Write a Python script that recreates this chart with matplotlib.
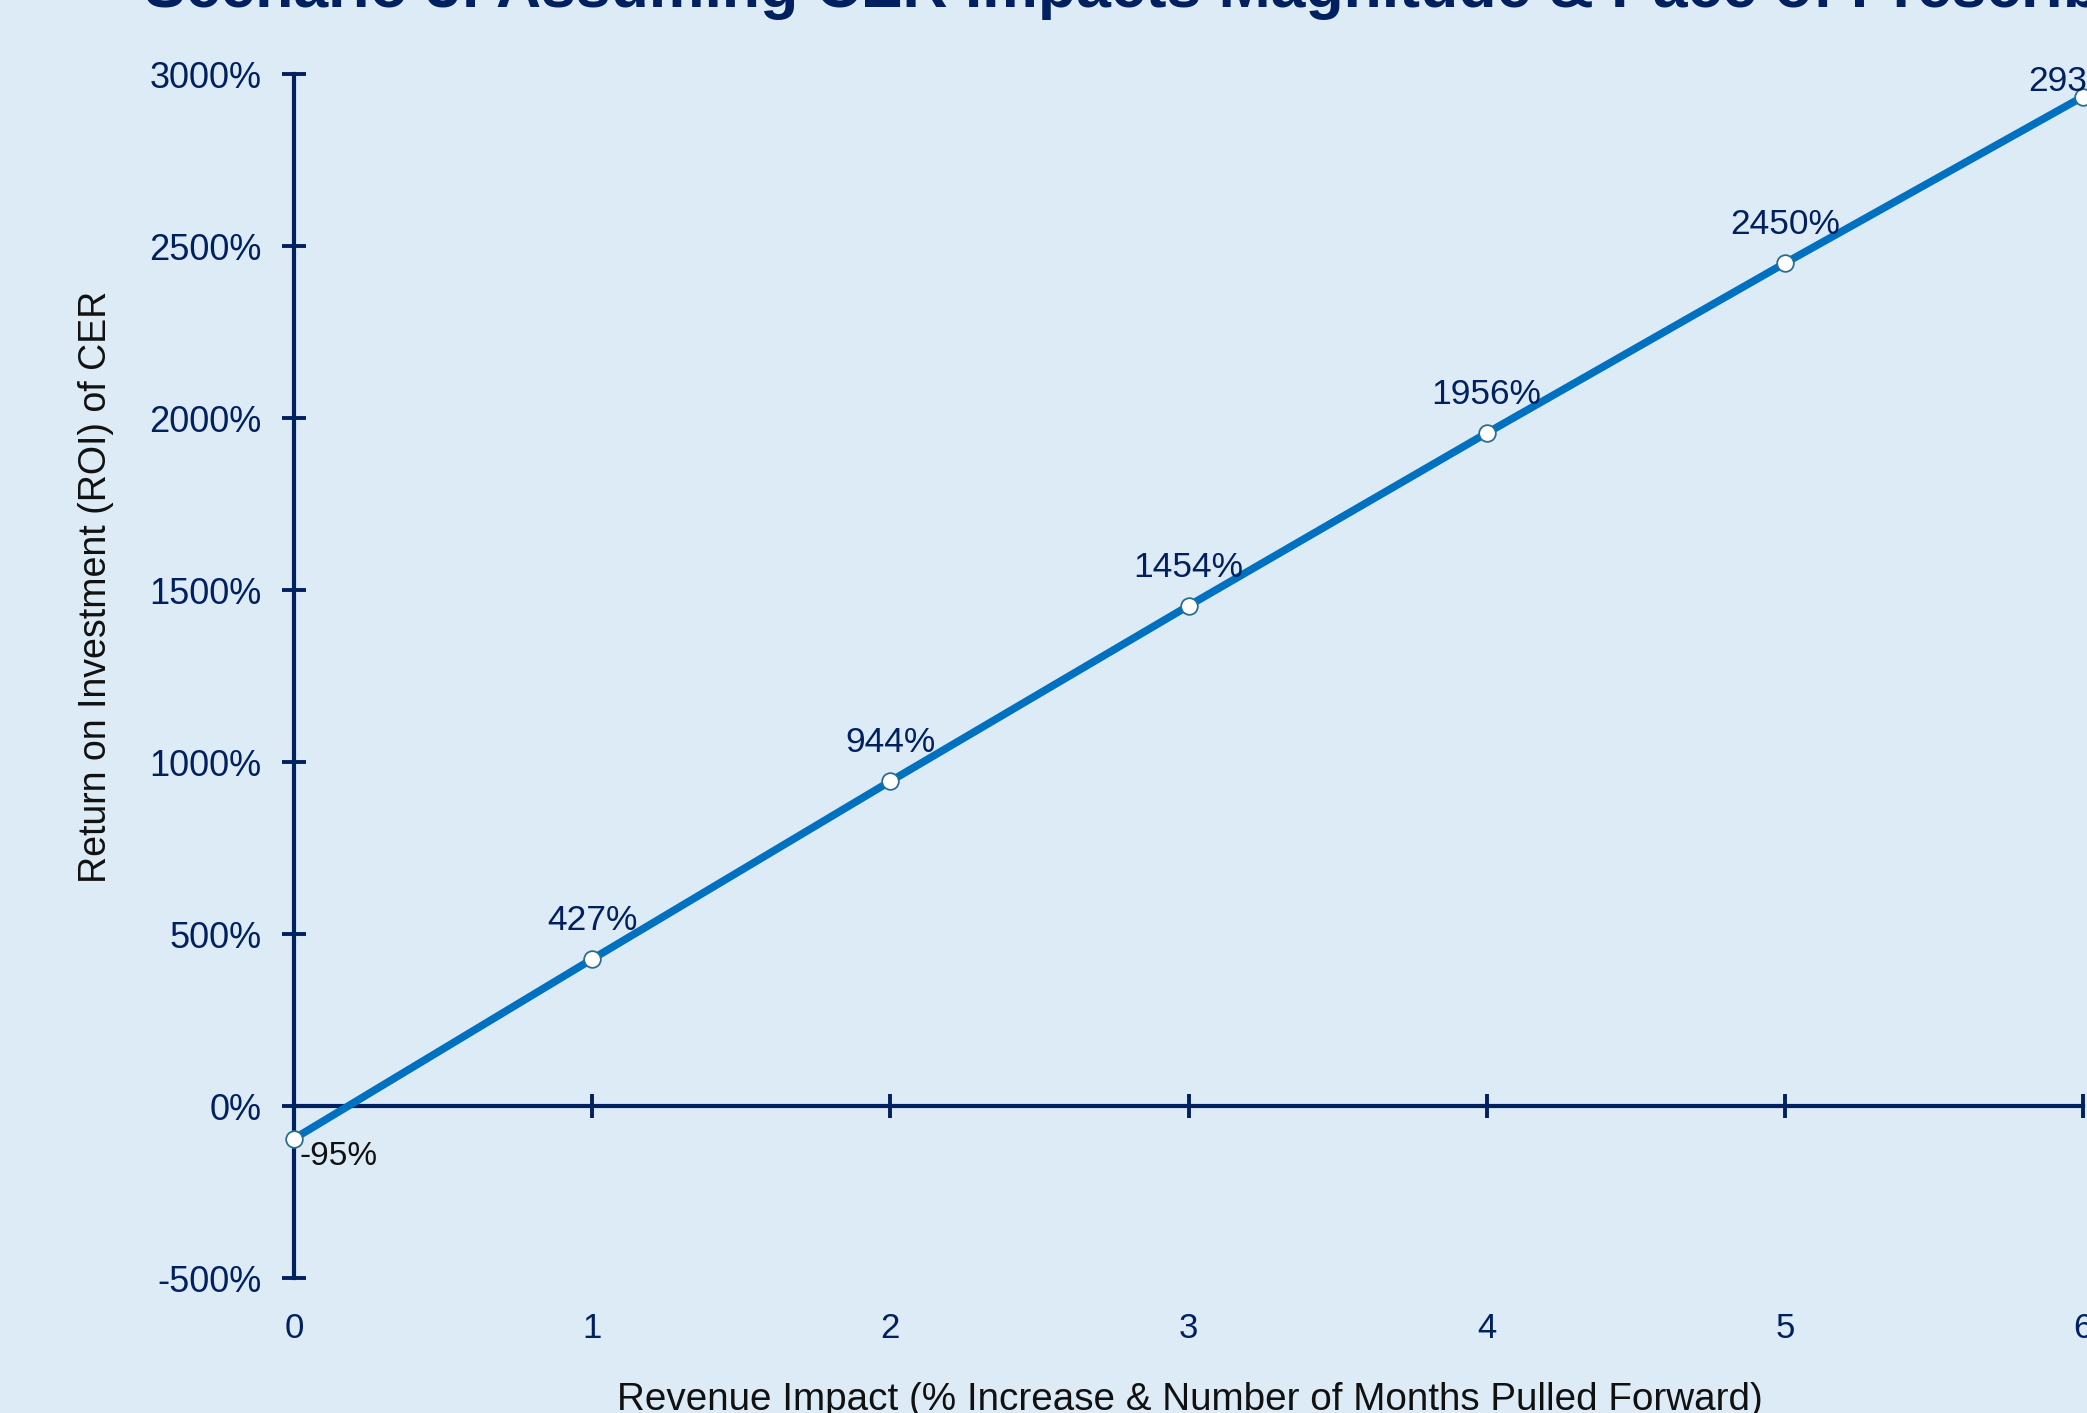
import matplotlib
matplotlib.use("Agg")
import matplotlib.pyplot as plt
import matplotlib.transforms as mtransforms

# ---- data ----
x_values = [0, 1, 2, 3, 4, 5, 6]
roi_values = [-95, 427, 944, 1454, 1956, 2450, 2934]
roi_labels = ["-95%", "427%", "944%", "1454%", "1956%", "2450%", "2934%"]
y_ticks = [-500, 0, 500, 1000, 1500, 2000, 2500, 3000]
x_ticks = [0, 1, 2, 3, 4, 5, 6]
title = "Scenario 3: Assuming CER Impacts Magnitude & Pace of Prescribing"
x_label = "Revenue Impact (% Increase & Number of Months Pulled Forward)"
y_label = "Return on Investment (ROI) of CER"

BG = "#DDEBF7"
NAVY = "#002060"
LINE = "#0070C0"
FONT = "Liberation Sans"

plt.rcParams["font.family"] = [FONT, "DejaVu Sans"]

W, H = 2087, 1413
fig = plt.figure(figsize=(W / 100, H / 100), dpi=100, facecolor=BG)
ax_left, ax_right, ax_top, ax_bottom = 294, 2083, 74, 1278
ax = fig.add_axes([ax_left / W, 1 - ax_bottom / H, (ax_right - ax_left) / W, (ax_bottom - ax_top) / H])
ax.set_facecolor(BG)
ax.set_xlim(0, 6)
ax.set_ylim(-500, 3000)

for s in ["top", "right"]:
    ax.spines[s].set_visible(False)
ax.spines["left"].set_position(("data", 0))
ax.spines["bottom"].set_position(("data", 0))
for s in ["left", "bottom"]:
    ax.spines[s].set_color(NAVY)
    ax.spines[s].set_linewidth(3)
    ax.spines[s].set_zorder(2)

ax.set_yticks(y_ticks)
ax.set_yticklabels([f"{v}%" for v in y_ticks])
ax.tick_params(axis="y", direction="inout", length=17, width=2.8, color=NAVY,
               labelcolor=NAVY, labelsize=26, pad=15)
ax.set_xticks(x_ticks[1:])
ax.tick_params(axis="x", direction="inout", length=17, width=2.8, color=NAVY,
               labelbottom=False)

# x tick labels placed low (below plot area)
trans = mtransforms.blended_transform_factory(ax.transData, ax.transAxes)
for xv in x_ticks:
    ax.text(xv, -60 / (ax_bottom - ax_top), str(xv), transform=trans, ha="center",
            va="baseline", fontsize=25, color=NAVY, clip_on=False)

ax.plot(x_values, roi_values, color=LINE, linewidth=5.5, marker="o", markersize=12,
        markerfacecolor="white", markeredgecolor="#2A6F8F", markeredgewidth=1.3,
        clip_on=False, zorder=5, solid_capstyle="butt")

ymax = ax.get_ylim()[1]
for xv, yv, lab in zip(x_values, roi_values, roi_labels):
    if yv < 0:
        ax.annotate(lab, (xv, yv), xytext=(4, -19), textcoords="offset points",
                    ha="left", va="baseline", fontsize=24, color="#111111",
                    annotation_clip=False, zorder=6)
    else:
        # labels near the top of the plot area are pushed down to stay inside it
        dy = 21 if yv < ymax - 200 else 4
        ax.annotate(lab, (xv, yv), xytext=(0, dy), textcoords="offset points",
                    ha="center", va="baseline", fontsize=25.5, color=NAVY,
                    annotation_clip=False, zorder=6)

fig.text(144 / W, 1 - 7 / H, title, ha="left", va="baseline", fontsize=45,
         fontweight="bold", color=NAVY)
fig.text(1190 / W, 1 - 1410 / H, x_label, ha="center", va="baseline", fontsize=27.8,
         color="#111111")
fig.text(96 / W, 1 - 587 / H, y_label, ha="center", va="center", rotation=90,
         fontsize=27, color="#111111")

fig.savefig("out.png", dpi=100, facecolor=BG)
